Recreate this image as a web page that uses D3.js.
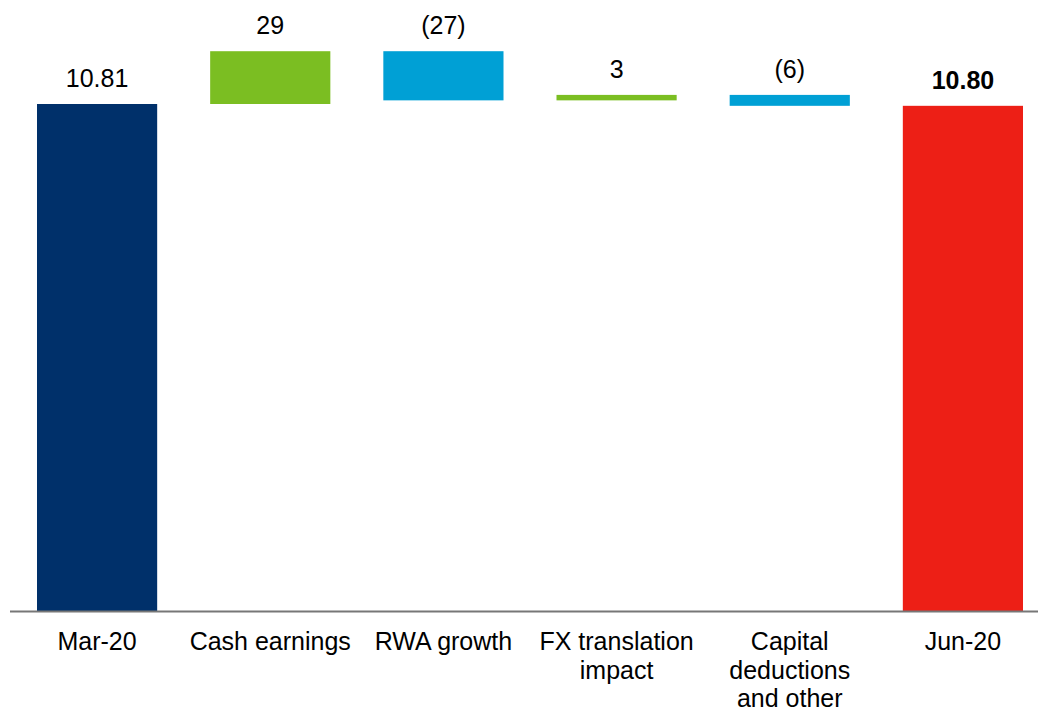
<!DOCTYPE html>
<html>
<head>
<meta charset="utf-8">
<script src="https://cdn.jsdelivr.net/npm/d3@7"></script>
<style>
    html, body { margin: 0; padding: 0; background: #fff; }
    svg { display: block; font-family: "Liberation Sans", Arial, sans-serif; }
</style>
</head>
<body>
<div id="chart"></div>
<script>
// chart data (CET1 ratio, % and bps moves)
var categories = ["Mar-20", "Cash earnings", "RWA growth", "FX translation impact", "Capital deductions and other", "Jun-20"];
var categoryLines = [["Mar-20"], ["Cash earnings"], ["RWA growth"], ["FX translation", "impact"], ["Capital", "deductions", "and other"], ["Jun-20"]];
var startValue = 10.81;
var endValue = 10.80;
var movesBps = [29, -27, 3, -6];
var valueLabels = ["10.81", "29", "(27)", "3", "(6)", "10.80"];
var barColors = ["#00306a", "#7bbe22", "#00a0d5", "#7bbe22", "#00a0d5", "#ed1f16"];

var width = 1038, height = 711;
var baseY = 611;

var svg = d3.select("#chart").append("svg")
        .attr("width", width)
        .attr("height", height)
        .attr("viewBox", "0 0 " + width + " " + height);

var x = d3.scaleBand()
        .domain(categories)
        .range([37, 1023])
        .paddingInner(0.306)
        .paddingOuter(0);

// axis is not zero based
var y = d3.scaleLinear()
        .domain([8.025, 10.81])
        .range([baseY, 104]);

// build waterfall segments
var bars = [];
bars.push({cat: categories[0], lo: y.domain()[0], hi: startValue, label: valueLabels[0], bold: false});
var running = startValue;
movesBps.forEach(function (m, i) {
    var next = running + m / 100;
    bars.push({cat: categories[i + 1], lo: Math.min(running, next), hi: Math.max(running, next), label: valueLabels[i + 1], bold: false});
    running = next;
});
bars.push({cat: categories[5], lo: y.domain()[0], hi: endValue, label: valueLabels[5], bold: true});

svg.selectAll("rect.bar")
    .data(bars)
    .enter().append("rect")
    .attr("class", "bar")
    .attr("x", function (d) { return x(d.cat); })
    .attr("y", function (d) { return y(d.hi); })
    .attr("width", x.bandwidth())
    .attr("height", function (d) { return y(d.lo) - y(d.hi); })
    .style("fill", function (d, i) { return barColors[i]; });

svg.selectAll("text.val")
    .data(bars)
    .enter().append("text")
    .attr("class", "val")
    .attr("x", function (d) { return x(d.cat) + x.bandwidth() / 2; })
    .attr("y", function (d) { return y(d.hi) - 17; })
    .attr("text-anchor", "middle")
    .style("font-size", "25px")
    .style("font-weight", function (d) { return d.bold ? "bold" : "normal"; })
    .style("fill", "#000")
    .text(function (d) { return d.label; });

// base line
svg.append("line")
    .attr("x1", 10)
    .attr("x2", width)
    .attr("y1", baseY + 0.5)
    .attr("y2", baseY + 0.5)
    .style("stroke", "#777")
    .style("stroke-width", 2);

// category labels
var lbl = svg.selectAll("text.cat")
    .data(categories)
    .enter().append("text")
    .attr("class", "cat")
    .attr("text-anchor", "middle")
    .attr("x", function (d) { return x(d) + x.bandwidth() / 2; })
    .attr("y", 650)
    .style("font-size", "25px")
    .style("fill", "#000");

lbl.each(function (d, i) {
    var t = d3.select(this);
    var cx = x(d) + x.bandwidth() / 2;
    categoryLines[i].forEach(function (line, j) {
        t.append("tspan")
            .attr("x", cx)
            .attr("dy", j === 0 ? 0 : 28.5)
            .text(line);
    });
});
</script>
</body>
</html>
